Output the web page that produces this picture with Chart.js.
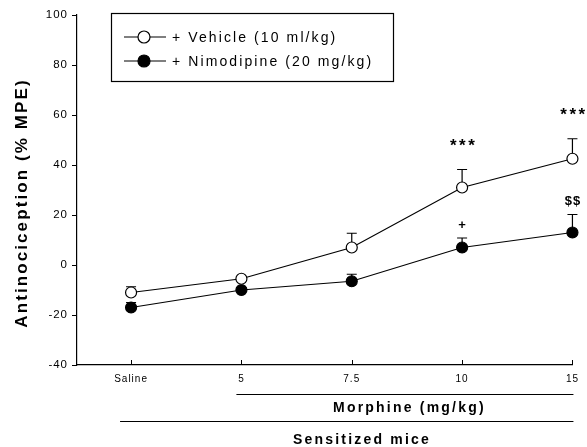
<!DOCTYPE html>
<html>
<head>
  <title>Antinociception</title>
  <script src="https://cdn.jsdelivr.net/npm/chart.js"></script>
  <style>
    body { margin: 0; background: #fff; }
    #wrap { width: 587px; height: 447px; }
  </style>
</head>
<body>
  <div id="wrap"><canvas id="myChart" width="587" height="447"></canvas></div>

  <script>
    // dose groups (x positions are 0..4 on a linear axis)
    const doseLabels = ['Saline', '5', '7.5', '10', '15'];
    const vehicle = [-11, -5.5, 7, 31, 42.5];
    const vehicleErr = [2.3, 1, 5.7, 7.2, 8];
    const nimodipine = [-17, -10, -6.5, 7, 13];
    const nimodipineErr = [2, 1, 2.8, 3.8, 7.2];
    const vehicleMarks = ['', '', '', '***', '***'];
    const nimodipineMarks = ['', '', '', '+', '$$'];
    const yTicks = [-40, -20, 0, 20, 40, 60, 80, 100];

    const FONT = 'Arial, "Liberation Sans", sans-serif';

    const toPoints = arr => arr.map((v, i) => ({ x: i, y: v }));

    const extras = {
      id: 'extras',
      beforeLayout(chart) { chart.ctx.letterSpacing = '1px'; },
      beforeDraw(chart) { chart.ctx.letterSpacing = '1px'; },
      beforeDatasetsDraw(chart) {
        const ctx = chart.ctx;
        const x = chart.scales.x, y = chart.scales.y;
        ctx.save();
        ctx.strokeStyle = '#000';
        ctx.lineWidth = 1.2;
        [[vehicle, vehicleErr], [nimodipine, nimodipineErr]].forEach(([vals, errs]) => {
          vals.forEach((v, i) => {
            const px = x.getPixelForValue(i);
            const py = y.getPixelForValue(v);
            const pe = y.getPixelForValue(v + errs[i]);
            ctx.beginPath();
            ctx.moveTo(px, py);
            ctx.lineTo(px, pe);
            ctx.moveTo(px - 5, pe);
            ctx.lineTo(px + 5, pe);
            ctx.stroke();
          });
        });
        ctx.restore();
      },
      afterDraw(chart) {
        const ctx = chart.ctx;
        const x = chart.scales.x, y = chart.scales.y;
        const area = chart.chartArea;
        ctx.save();
        ctx.strokeStyle = '#000';
        ctx.fillStyle = '#000';
        ctx.lineWidth = 1;

        // inward x tick marks
        doseLabels.forEach((_, i) => {
          const px = Math.round(x.getPixelForValue(i)) + 0.5;
          ctx.beginPath();
          ctx.moveTo(px, area.bottom);
          ctx.lineTo(px, area.bottom - 5);
          ctx.stroke();
        });

        // significance marks
        ctx.textAlign = 'center';
        ctx.textBaseline = 'middle';
        ctx.font = 'bold 17px ' + FONT;
        ctx.letterSpacing = '2.5px';
        vehicleMarks.forEach((m, i) => {
          if (!m) return;
          const px = x.getPixelForValue(i);
          const pe = y.getPixelForValue(vehicle[i] + vehicleErr[i]);
          ctx.fillText(m, px + 1.5, pe - 23);
        });
        ctx.font = 'bold 13px ' + FONT;
        ctx.letterSpacing = '1px';
        nimodipineMarks.forEach((m, i) => {
          if (!m) return;
          const px = x.getPixelForValue(i);
          const pe = y.getPixelForValue(nimodipine[i] + nimodipineErr[i]);
          ctx.fillText(m, px + 0.5, pe - 13);
        });

        // group bars under the axis
        const x5 = x.getPixelForValue(1);
        const x0 = x.getPixelForValue(0);
        const xEnd = x.getPixelForValue(4) + 1;
        ctx.beginPath();
        ctx.moveTo(x5 - 5, 394.5);
        ctx.lineTo(xEnd, 394.5);
        ctx.moveTo(x0 - 11, 421.5);
        ctx.lineTo(xEnd, 421.5);
        ctx.stroke();
        ctx.font = 'bold 14px ' + FONT;
        ctx.letterSpacing = '2.2px';
        ctx.fillText('Morphine (mg/kg)', (x5 + xEnd) / 2 + 2, 408);
        ctx.fillText('Sensitized mice', 362, 440);

        // y axis title
        ctx.save();
        ctx.translate(22, 203);
        ctx.rotate(-Math.PI / 2);
        ctx.font = 'bold 17px ' + FONT;
        ctx.letterSpacing = '2.1px';
        ctx.fillText('Antinociception (% MPE)', 0, 0);
        ctx.restore();

        // legend box
        ctx.lineWidth = 1.2;
        ctx.strokeRect(111.5, 13.5, 282, 68);
        const rows = [
          { label: '+ Vehicle (10 ml/kg)', fill: '#fff', yy: 37 },
          { label: '+ Nimodipine (20 mg/kg)', fill: '#000', yy: 61 }
        ];
        ctx.textAlign = 'left';
        ctx.font = '14px ' + FONT;
        ctx.letterSpacing = '2.1px';
        rows.forEach(r => {
          ctx.beginPath();
          ctx.moveTo(124, r.yy);
          ctx.lineTo(166, r.yy);
          ctx.stroke();
          ctx.beginPath();
          ctx.arc(144, r.yy, 6, 0, Math.PI * 2);
          ctx.fillStyle = r.fill;
          ctx.fill();
          ctx.stroke();
          ctx.fillStyle = '#000';
          ctx.fillText(r.label, 172, r.yy + 1);
        });
        ctx.restore();
      }
    };

    const ctx = document.getElementById('myChart').getContext('2d');
    new Chart(ctx, {
      type: 'line',
      data: {
        datasets: [
          {
            label: '+ Vehicle (10 ml/kg)',
            data: toPoints(vehicle),
            borderColor: '#000',
            borderWidth: 1.2,
            pointBackgroundColor: '#fff',
            pointBorderColor: '#000',
            pointBorderWidth: 1.2,
            pointRadius: 5.5,
            tension: 0,
            clip: false
          },
          {
            label: '+ Nimodipine (20 mg/kg)',
            data: toPoints(nimodipine),
            borderColor: '#000',
            borderWidth: 1.2,
            pointBackgroundColor: '#000',
            pointBorderColor: '#000',
            pointBorderWidth: 1.2,
            pointRadius: 5.5,
            tension: 0,
            clip: false
          }
        ]
      },
      options: {
        responsive: false,
        animation: false,
        events: [],
        layout: { padding: { top: 15, right: 14, left: 0, bottom: 0 } },
        plugins: { legend: { display: false }, tooltip: { enabled: false } },
        scales: {
          x: {
            type: 'linear',
            min: -0.49,
            max: 4,
            afterBuildTicks: s => { s.ticks = doseLabels.map((_, i) => ({ value: i })); },
            afterFit: s => { s.height = 82; },
            grid: { display: false, tickLength: 0 },
            border: { display: true, color: '#000', width: 1.2 },
            ticks: {
              padding: 8,
              maxRotation: 0,
              color: '#000',
              font: { family: FONT, size: 10 },
              callback: v => doseLabels[v]
            }
          },
          y: {
            min: -40,
            max: 100,
            afterBuildTicks: s => { s.ticks = yTicks.map(v => ({ value: v })); },
            afterFit: s => { s.width = 77; },
            grid: { drawOnChartArea: false, tickLength: 5, color: '#000' },
            border: { display: true, color: '#000', width: 1.2 },
            ticks: {
              padding: 4,
              color: '#000',
              font: { family: FONT, size: 11.5 }
            }
          }
        }
      },
      plugins: [extras]
    });
  </script>
</body>
</html>
